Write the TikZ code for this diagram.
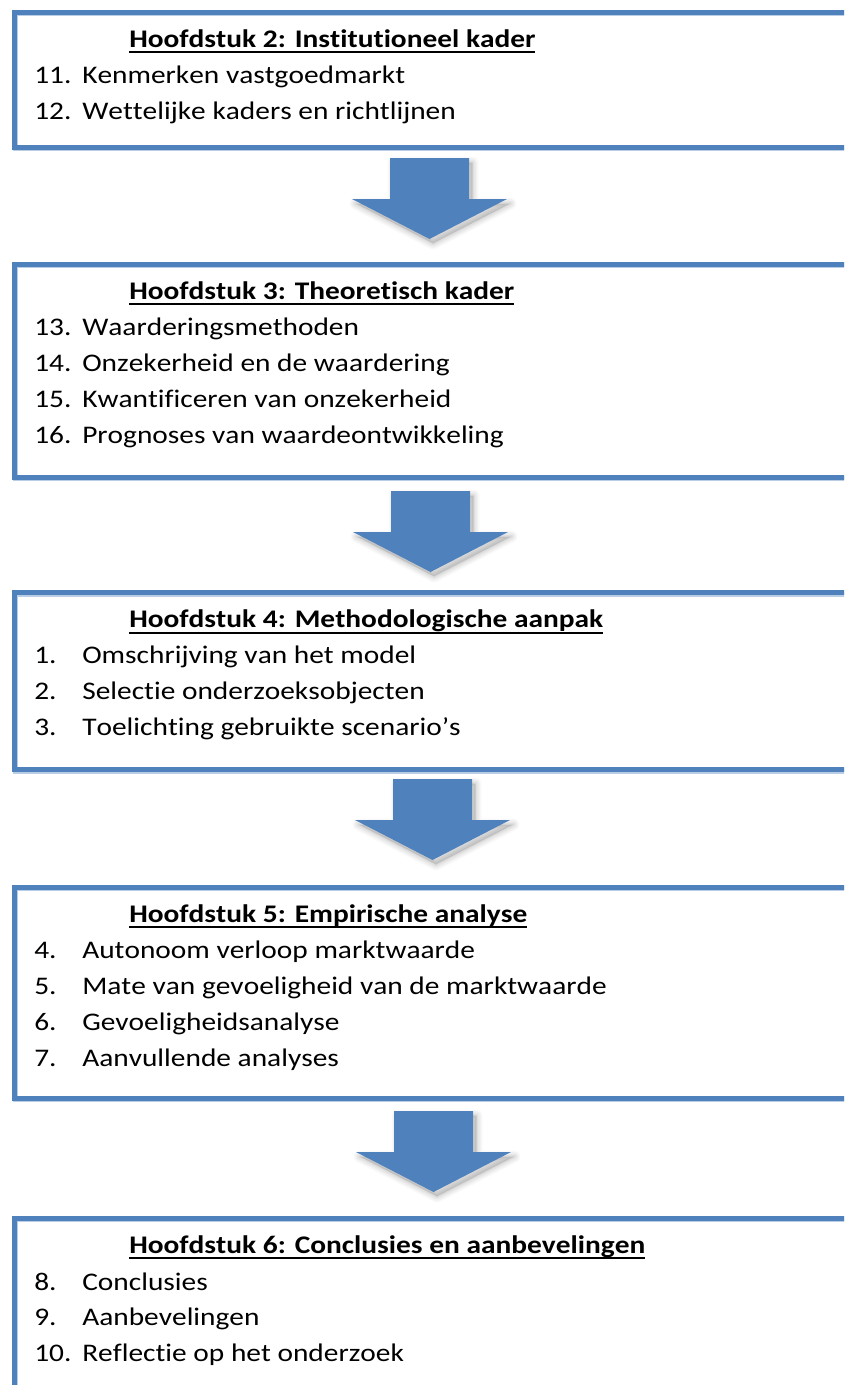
\documentclass[tikz,border=0pt]{standalone}
\usepackage{fontspec}
\setmainfont{Carlito}[FakeStretch=1.16, Ligatures=NoCommon, Kerning=Off]
\definecolor{accent}{HTML}{4F81BD}
\definecolor{edgeshade}{HTML}{B9CDE5}
\newcommand{\hdtitle}[1]{\setbox0\hbox{\bfseries #1}\rlap{\rule[-4.5pt]{\wd0}{1.3pt}}\box0}
\tikzset{
  chapbox/.style={draw=accent, line width=3.75pt, anchor=north west, inner sep=0pt, minimum width=651pt},
  boxshade/.style={draw=edgeshade, line width=3.75pt, anchor=north west, inner sep=0pt, minimum width=651pt},
  txt/.style={anchor=base west, inner sep=0pt, font=\fontsize{19pt}{22pt}\selectfont},
  downarrow/.pic={
    \foreach \w/\o in {12/0.025,9/0.03,6/0.035,3/0.04}
      \filldraw[black, opacity=\o, line width=\w*0.75pt, line join=round, shift={(3.5,4.5)}]
        (-39.5,0) -- (39.5,0) -- (39.5,41) -- (77.5,41) -- (0,81) -- (-77.5,41) -- (-39.5,41) -- cycle;
    \fill[accent] (-39.5,0) -- (39.5,0) -- (39.5,41) -- (77.5,41) -- (0,81) -- (-77.5,41) -- (-39.5,41) -- cycle;
  }
}
\begin{document}
\begin{tikzpicture}[x=0.75pt,y=-0.75pt]
\useasboundingbox (0,0) rectangle (844,1385);
\fill[white] (0,0) rectangle (844,1385);
\clip (0,0) rectangle (844,1385);
% box shades
\node[boxshade, minimum height=101.25pt] at (12.5,11) {};
\node[boxshade, minimum height=159.75pt] at (12.5,263) {};
\node[boxshade, minimum height=133.1pt] at (12.5,591.5) {};
\node[boxshade, minimum height=158.25pt] at (12.5,886) {};
\node[boxshade, minimum height=150pt] at (12.5,1217) {};
% boxes
\node[chapbox, minimum height=101.25pt] (b1) at (11.5,9.5) {};
\node[chapbox, minimum height=159.75pt] (b2) at (11.5,261.5) {};
\node[chapbox, minimum height=133.1pt] (b3) at (11.5,590) {};
\node[chapbox, minimum height=158.25pt] (b4) at (11.5,884.5) {};
\node[chapbox, minimum height=150pt] (b5) at (11.5,1215.5) {};
% arrows
\pic (a1) at (429.5,158) {downarrow};
\pic (a2) at (430.5,491) {downarrow};
\pic (a3) at (432.5,779) {downarrow};
\pic (a4) at (433.5,1111) {downarrow};
% box 1
\node[txt] (t1) at (129,47) {\hdtitle{Hoofdstuk 2: Institutioneel kader}};
\node[txt] (n11) at (34,83) {11.};
\node[txt] (i11) at (82,83) {Kenmerken vastgoedmarkt};
\node[txt] (n12) at (34,119) {12.};
\node[txt] (i12) at (82,119) {Wettelijke kaders en richtlijnen};
% box 2
\node[txt] (t2) at (129,299) {\hdtitle{Hoofdstuk 3: Theoretisch kader}};
\node[txt] (n13) at (34,335) {13.};
\node[txt] (i13) at (82,335) {Waarderingsmethoden};
\node[txt] (n14) at (34,371) {14.};
\node[txt] (i14) at (82,371) {Onzekerheid en de waardering};
\node[txt] (n15) at (34,407) {15.};
\node[txt] (i15) at (82,407) {Kwantificeren van onzekerheid};
\node[txt] (n16) at (34,443) {16.};
\node[txt] (i16) at (82,443) {Prognoses van waardeontwikkeling};
% box 3
\node[txt] (t3) at (129,627.5) {\hdtitle{Hoofdstuk 4: Methodologische aanpak}};
\node[txt] (n1) at (34,663.5) {1.};
\node[txt] (i1) at (82,663.5) {Omschrijving van het model};
\node[txt] (n2) at (34,699.5) {2.};
\node[txt] (i2) at (82,699.5) {Selectie onderzoeksobjecten};
\node[txt] (n3) at (34,735.5) {3.};
\node[txt] (i3) at (82,735.5) {Toelichting gebruikte scenario’s};
% box 4
\node[txt] (t4) at (129,922) {\hdtitle{Hoofdstuk 5: Empirische analyse}};
\node[txt] (n4) at (34,958) {4.};
\node[txt] (i4) at (82,958) {Autonoom verloop marktwaarde};
\node[txt] (n5) at (34,994) {5.};
\node[txt] (i5) at (82,994) {Mate van gevoeligheid van de marktwaarde};
\node[txt] (n6) at (34,1030) {6.};
\node[txt] (i6) at (82,1030) {Gevoeligheidsanalyse};
\node[txt] (n7) at (34,1066) {7.};
\node[txt] (i7) at (82,1066) {Aanvullende analyses};
% box 5
\node[txt] (t5) at (129,1253) {\hdtitle{Hoofdstuk 6: Conclusies en aanbevelingen}};
\node[txt] (n8) at (34,1290) {8.};
\node[txt] (i8) at (82,1290) {Conclusies};
\node[txt] (n9) at (34,1325) {9.};
\node[txt] (i9) at (82,1325) {Aanbevelingen};
\node[txt] (n10) at (34,1361) {10.};
\node[txt] (i10) at (82,1361) {Reflectie op het onderzoek};
\end{tikzpicture}
\end{document}
